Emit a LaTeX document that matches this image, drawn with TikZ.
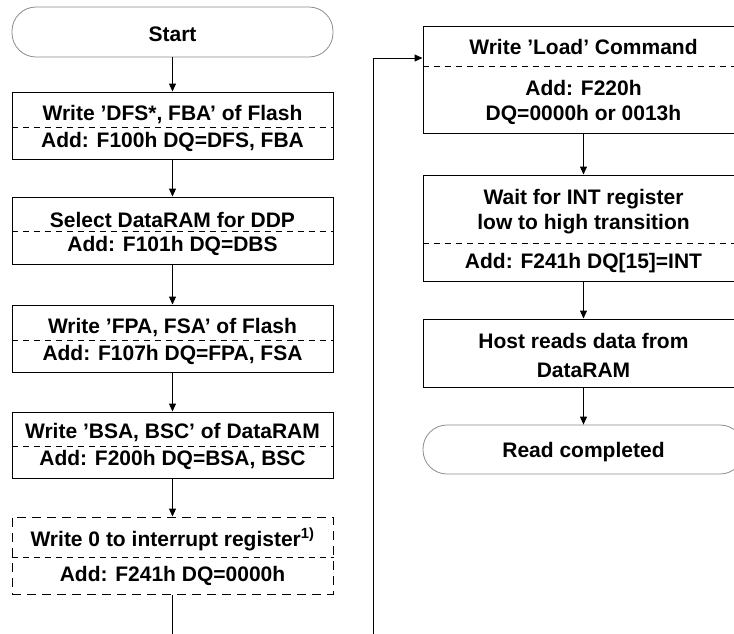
\documentclass[tikz,border=0pt]{standalone}
\usepackage{fontspec}
\setmainfont{Liberation Sans}
\usetikzlibrary{arrows.meta}
\tikzset{
  box/.style={draw=black, line width=1pt, minimum width=321pt, inner sep=0pt},
  term/.style={draw=black!45, line width=0.8pt, rounded corners=24pt, minimum width=321pt, inner sep=0pt},
  optbox/.style={box, dash pattern=on 9pt off 6pt},
  sep/.style={draw=black, line width=0.8pt, dash pattern=on 6pt off 5pt},
  txt/.style={anchor=base, inner sep=0pt, font=\fontsize{21}{25}\selectfont\bfseries},
  arr/.style={draw=black, line width=1pt, -{Triangle[length=8pt,width=7pt]}},
  ln/.style={draw=black, line width=1pt},
}
\begin{document}
\begin{tikzpicture}[x=1pt,y=-1pt]
\useasboundingbox (0,0) rectangle (734,633);
\clip (0,0) rectangle (734,633);
% left column
\node[term, minimum height=50pt] (S) at (172.5,32) {};
\node[txt] (tS) at (172.5,41) {Start};
\node[box, minimum height=67pt] (B1) at (172.5,125.5) {};
\node[txt] (t1a) at (172.5,120) {Write ’DFS*, FBA’ of Flash};
\node[txt] (t1b) at (172.5,147) {Add: F100h DQ=DFS, FBA};
\draw[sep] (B1.west |- 0,127) -- (B1.east |- 0,127);
\node[box, minimum height=67pt] (B2) at (172.5,230.5) {};
\node[txt] (t2a) at (172.5,227) {Select DataRAM for DDP};
\node[txt] (t2b) at (172.5,251.5) {Add: F101h DQ=DBS};
\draw[sep] (B2.west |- 0,231) -- (B2.east |- 0,231);
\node[box, minimum height=67pt] (B3) at (172.5,338.5) {};
\node[txt] (t3a) at (172.5,333) {Write ’FPA, FSA’ of Flash};
\node[txt] (t3b) at (172.5,360) {Add: F107h DQ=FPA, FSA};
\draw[sep] (B3.west |- 0,340) -- (B3.east |- 0,340);
\node[box, minimum height=66pt] (B4) at (172.5,445) {};
\node[txt] (t4a) at (172.5,438.5) {Write ’BSA, BSC’ of DataRAM};
\node[txt] (t4b) at (172.5,465) {Add: F200h DQ=BSA, BSC};
\draw[sep] (B4.west |- 0,446) -- (B4.east |- 0,446);
\node[optbox, minimum height=77pt] (B5) at (172.5,555.5) {};
\node[txt] (t5a) at (172.5,546.5) {Write 0 to interrupt register\textsuperscript{1)}};
\node[txt] (t5b) at (172.5,581.5) {Add: F241h DQ=0000h};
\draw[sep] (B5.west |- 0,557) -- (B5.east |- 0,557);
% right column
\node[box, minimum height=107pt] (R1) at (583.5,79.5) {};
\node[txt] (r1a) at (583.5,54.5) {Write ’Load’ Command};
\node[txt] (r1b) at (583.5,95) {Add: F220h};
\node[txt] (r1c) at (583.5,120.5) {DQ=0000h or 0013h};
\draw[sep] (R1.west |- 0,66) -- (R1.east |- 0,66);
\node[box, minimum height=106pt] (R2) at (583.5,228) {};
\node[txt] (r2a) at (583.5,204) {Wait for INT register};
\node[txt] (r2b) at (583.5,229) {low to high transition};
\node[txt] (r2c) at (583.5,268.5) {Add: F241h DQ[15]=INT};
\draw[sep] (R2.west |- 0,243) -- (R2.east |- 0,243);
\node[box, minimum height=68pt] (R3) at (583.5,353) {};
\node[txt] (r3a) at (583.5,348.5) {Host reads data from};
\node[txt] (r3b) at (583.5,377.5) {DataRAM};
\node[term, minimum height=49pt] (R4) at (583.5,449.5) {};
\node[txt] (tR4) at (583.5,457) {Read completed};
% connectors
\draw[arr] (S.south) -- (B1.north);
\draw[arr] (B1.south) -- (B2.north);
\draw[arr] (B2.south) -- (B3.north);
\draw[arr] (B3.south) -- (B4.north);
\draw[arr] (B4.south) -- (B5.north);
\coordinate (b5end) at (172.5,645);
\draw[ln] (B5.south) -- (b5end);
\coordinate (fb0) at (373,645);
\coordinate (fb1) at (373,58);
\draw[arr] (fb0) -- (fb1) -- (fb1 -| R1.west);
\draw[arr] (R1.south) -- (R2.north);
\draw[arr] (R2.south) -- (R3.north);
\draw[arr] (R3.south) -- (R4.north);
\end{tikzpicture}
\end{document}
